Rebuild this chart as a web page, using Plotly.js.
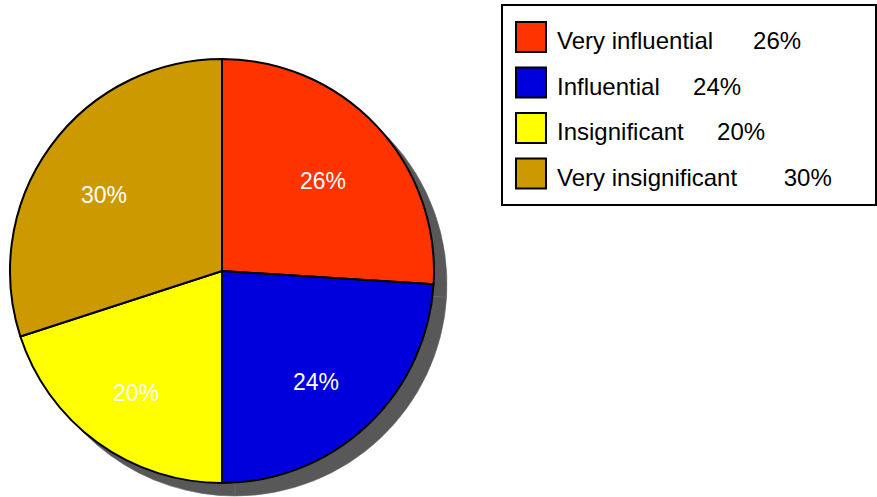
<!DOCTYPE html>
<html>
<head>
<meta charset="utf-8">
<script src="https://cdn.plot.ly/plotly-3.0.1.min.js"></script>
<style>html,body{margin:0;padding:0;background:#fff;}#chart{width:877px;height:497px;}</style>
</head>
<body>
<div id="chart"></div>
<script>
const labels = ["Very influential", "Influential", "Insignificant", "Very insignificant"];
const values = [26, 24, 20, 30];
const colors = ["#ff3300", "#0000dd", "#ffff00", "#cc9900"];
const legendSpacing = [6, 5, 5, 7];

const W = 877, H = 497;
const cxPx = 222, cyPx = 271, rPx = 212;
const shadowOff = 13;

function dom(cx, cy) {
  return {
    x: [(cx - rPx) / W, (cx + rPx) / W],
    y: [1 - (cy + rPx) / H, 1 - (cy - rPx) / H]
  };
}

const shadow = {
  type: "pie", values: values, labels: labels, sort: false, direction: "clockwise", rotation: 0,
  marker: {colors: values.map(() => "#585858"), line: {color: "#6a6a6a", width: 0.6}},
  textinfo: "none", hoverinfo: "skip", showlegend: false,
  domain: dom(cxPx + shadowOff, cyPx + shadowOff)
};
const pie = {
  type: "pie", values: values, labels: labels, sort: false, direction: "clockwise", rotation: 0,
  marker: {colors: colors, line: {color: "#000", width: 2}},
  textinfo: "none", hoverinfo: "label+percent", showlegend: false,
  domain: dom(cxPx, cyPx)
};

const total = values.reduce((a, b) => a + b, 0);
const annotations = [];
let acc = 0;
const labR = 142;
values.forEach((v, i) => {
  const mid = (acc + v / 2) / total * 2 * Math.PI;
  acc += v;
  annotations.push({
    xref: "paper", yref: "paper",
    x: (cxPx + labR * Math.sin(mid)) / W,
    y: 1 - (cyPx - labR * Math.cos(mid)) / H,
    xanchor: "center", yanchor: "middle", yshift: -7, xshift: -3,
    text: Math.round(v / total * 100) + "%",
    showarrow: false,
    font: {family: "Liberation Sans, Arial, sans-serif", size: 23, color: "#ffffff"}
  });
});

const shapes = [{
  type: "rect", xref: "paper", yref: "paper",
  x0: 502 / W, x1: 876 / W, y0: 1 - 205 / H, y1: 1 - 5 / H,
  line: {color: "#000", width: 2}, fillcolor: "rgba(0,0,0,0)"
}];
labels.forEach((lab, i) => {
  const top = 22 + 45.5 * i;
  shapes.push({
    type: "rect", xref: "paper", yref: "paper",
    x0: 516 / W, x1: 546 / W, y0: 1 - (top + 30) / H, y1: 1 - top / H,
    line: {color: "#000", width: 2}, fillcolor: colors[i]
  });
  annotations.push({
    xref: "paper", yref: "paper",
    x: 555 / W, y: 1 - (top + 19) / H,
    xanchor: "left", yanchor: "middle",
    text: lab + "\u00a0".repeat(legendSpacing[i]) + Math.round(values[i] / total * 100) + "%",
    showarrow: false,
    font: {family: "Liberation Sans, Arial, sans-serif", size: 24, color: "#000"}
  });
});

Plotly.newPlot("chart", [shadow, pie], {
  width: W, height: H,
  margin: {l: 0, r: 0, t: 0, b: 0},
  paper_bgcolor: "#fff", plot_bgcolor: "#fff",
  showlegend: false,
  shapes: shapes,
  annotations: annotations
}, {displayModeBar: false, staticPlot: true});
</script>
</body>
</html>
